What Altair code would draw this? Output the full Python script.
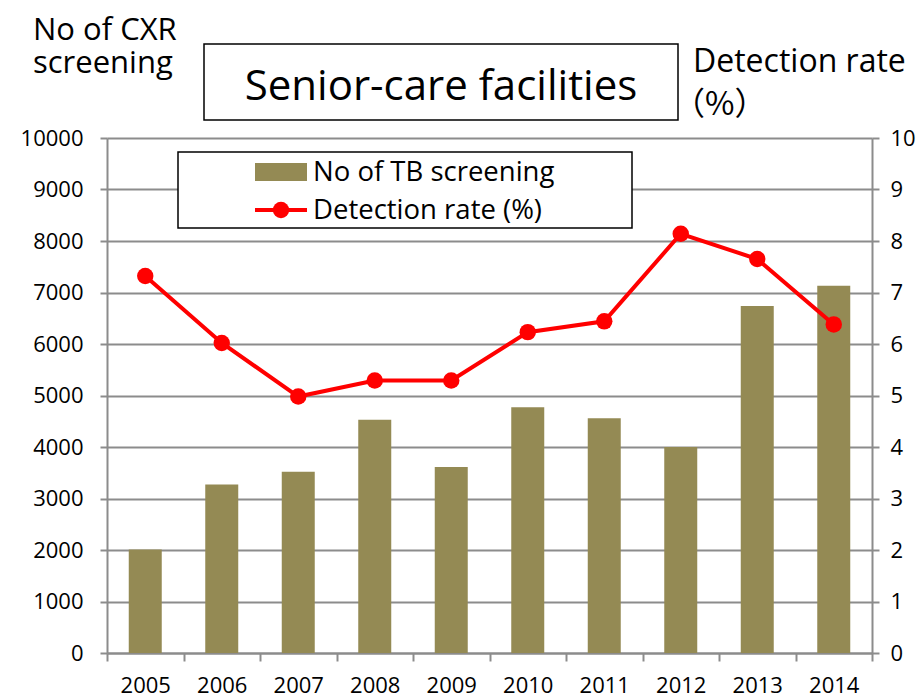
import altair as alt
import pandas as pd

years = ["2005", "2006", "2007", "2008", "2009", "2010", "2011", "2012", "2013", "2014"]
screenings = [2010, 3270, 3520, 4530, 3610, 4770, 4560, 4000, 6740, 7130]
rates = [7.32, 6.02, 4.98, 5.29, 5.29, 6.23, 6.44, 8.14, 7.65, 6.38]
left_ticks = list(range(0, 10001, 1000))
right_ticks = list(range(0, 11))

df = pd.DataFrame({"year": years, "screenings": screenings, "rate": rates})

FONT = "Open Sans"
GRID = "#8c8c8c"
BAR = "#948A54"
RED = "#FF0000"
W, H = 765, 515

xenc = alt.X(
    "year:N", sort=years,
    scale=alt.Scale(paddingInner=0, paddingOuter=0),
    axis=alt.Axis(title=None, labelAngle=0, tickBand="extent", domainColor=GRID,
                  tickColor=GRID, tickSize=8, domainWidth=2, tickWidth=2,
                  labelFontSize=22, labelFont=FONT, labelColor="black",
                  labelPadding=14, grid=False),
)

bars = alt.Chart(df).mark_bar(size=33, color=BAR).encode(
    x=xenc,
    y=alt.Y("screenings:Q", scale=alt.Scale(domain=[0, 10000], nice=False),
            axis=alt.Axis(title=None, values=left_ticks, grid=True, gridColor=GRID,
                          gridWidth=2, domainColor=GRID, domainWidth=2, tickColor=GRID,
                          tickWidth=2, tickSize=7, labelPadding=17, labelFontSize=22,
                          labelFont=FONT, labelColor="black", format="d")),
)

line = alt.Chart(df).mark_line(color=RED, strokeWidth=4).encode(
    x=alt.X("year:N", sort=years),
    y=alt.Y("rate:Q", scale=alt.Scale(domain=[0, 10], nice=False),
            axis=alt.Axis(title=None, orient="right", values=right_ticks, grid=False,
                          domainColor=GRID, domainWidth=2, tickColor=GRID, tickWidth=2,
                          tickSize=7, labelPadding=11, labelFontSize=22, labelFont=FONT,
                          labelColor="black", labelAlign="left")),
)
points = alt.Chart(df).mark_point(filled=True, color=RED, size=270, opacity=1).encode(
    x=alt.X("year:N", sort=years),
    y=alt.Y("rate:Q", scale=alt.Scale(domain=[0, 10], nice=False), axis=None),
)

one = alt.Data(values=[{"a": 1}])

def rect(x, x2, y, y2, fill="white", stroke="black", sw=1.5):
    return alt.Chart(one).mark_rect(fill=fill, stroke=stroke, strokeWidth=sw).encode(
        x=alt.value(x), x2=alt.value(x2), y=alt.value(y), y2=alt.value(y2))

def text(s, x, y, size, align="left", baseline="alphabetic", font=FONT):
    return alt.Chart(one).mark_text(align=align, baseline=baseline, fontSize=size,
                                    font=font, color="black").encode(
        x=alt.value(x), y=alt.value(y), text=alt.value(s))

title_box = rect(97, 571, -94, -18)
title_txt = text("Senior-care facilities", 334, -38, 42, align="center")
ylab1 = text("No of CXR", -74, -98, 31)
ylab2 = text("screening", -74, -65, 31)
rlab1 = text("Detection rate", 586, -66, 32)
rlab2 = text("（%）", 566, -33, 32, baseline="middle", font="Noto Sans CJK JP")

leg_box = rect(71, 525, 14, 90)
leg_bar = rect(148, 200, 25, 43, fill=BAR, stroke=BAR, sw=0)
leg_txt1 = text("No of TB screening", 206, 35, 27.5, baseline="middle")
leg_line = alt.Chart(one).mark_rule(color=RED, strokeWidth=4).encode(
    x=alt.value(148), x2=alt.value(200), y=alt.value(72))
leg_pt = alt.Chart(one).mark_point(filled=True, color=RED, size=270, opacity=1).encode(
    x=alt.value(174), y=alt.value(72))
leg_txt2 = text("Detection rate (%)", 206, 73, 27.5, baseline="middle")

chart = alt.layer(
    bars, line, points,
    title_box, title_txt, ylab1, ylab2, rlab1, rlab2,
    leg_box, leg_bar, leg_txt1, leg_line, leg_pt, leg_txt2,
).resolve_scale(y="independent").properties(
    width=W, height=H,
    autosize=alt.AutoSizeParams(type="none"),
    padding={"left": 99, "top": 130, "right": 44, "bottom": 46},
).configure_view(stroke=None)

chart.save("out.html", embed_options={"renderer": "svg", "actions": False})
